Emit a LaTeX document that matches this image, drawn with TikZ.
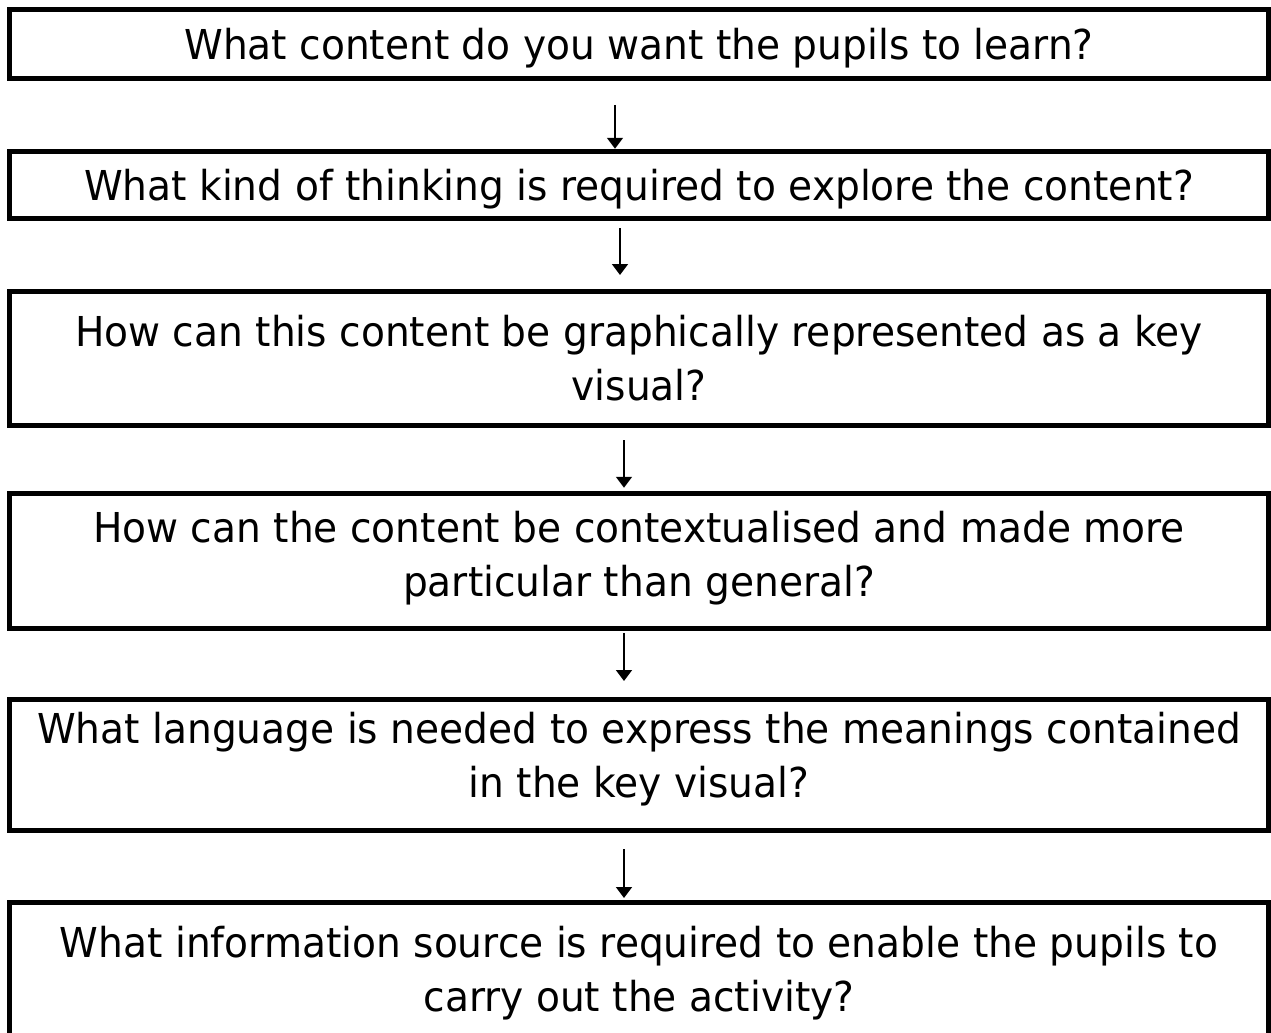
\documentclass[tikz,border=0pt]{standalone}
\usepackage{fontspec}
\setmainfont[FakeStretch=0.95]{DejaVu Sans}
\usetikzlibrary{arrows.meta}

\begin{document}
\begin{tikzpicture}[x=0.5pt, y=-0.5pt,
  qbox/.style={draw, line width=2.5pt, minimum width=629.25pt, inner sep=0pt,
    align=center, text depth=0pt, font=\fontsize{20.6}{27}\selectfont},
  flow/.style={-{Triangle[length=5.5pt, width=8pt]}, line width=0.85pt}]
  \useasboundingbox (0,0) rectangle (1271,1033);
  \clip (0,0) rectangle (1271,1033);

  % 1. content
  \node[qbox, minimum height=34.25pt] (content) at (639,44)
    {What content do you want the pupils to learn?};

  % 2. thinking
  \node[qbox, minimum height=33.75pt] (thinking) at (639,185)
    {What kind of thinking is required to explore the content?};

  % 3. key visual
  \node[qbox, minimum height=67pt] (visual) at (639,358)
    {How can this content be graphically represented as a key\\ visual?};

  % 4. context
  \node[qbox, minimum height=67.25pt, text depth=7pt] (context) at (639,561)
    {How can the content be contextualised and made more\\ particular than general?};

  % 5. language
  \node[qbox, minimum height=65.5pt, text depth=10pt] (language) at (639,765)
    {What language is needed to express the meanings contained\\ in the key visual?};

  % 6. information source (runs off the bottom)
  \node[qbox, minimum height=67pt] (source) at (639,969)
    {What information source is required to enable the pupils to\\ carry out the activity?};

  % arrows between the questions
  \draw[flow, shorten <=12pt] ([xshift=-12pt]content.south) -- ([xshift=-12pt]thinking.north);
  \draw[flow, shorten <=3.5pt, shorten >=6.75pt] ([xshift=-9.5pt]thinking.south) -- ([xshift=-9.5pt]visual.north);
  \draw[flow, shorten <=6.25pt, shorten >=1.75pt] ([xshift=-7.5pt]visual.south) -- ([xshift=-7.5pt]context.north);
  \draw[flow, shorten <=1pt, shorten >=8pt] ([xshift=-7.5pt]context.south) -- ([xshift=-7.5pt]language.north);
  \draw[flow, shorten <=8pt, shorten >=0.75pt] ([xshift=-7.5pt]language.south) -- ([xshift=-7.5pt]source.north);
\end{tikzpicture}
\end{document}
